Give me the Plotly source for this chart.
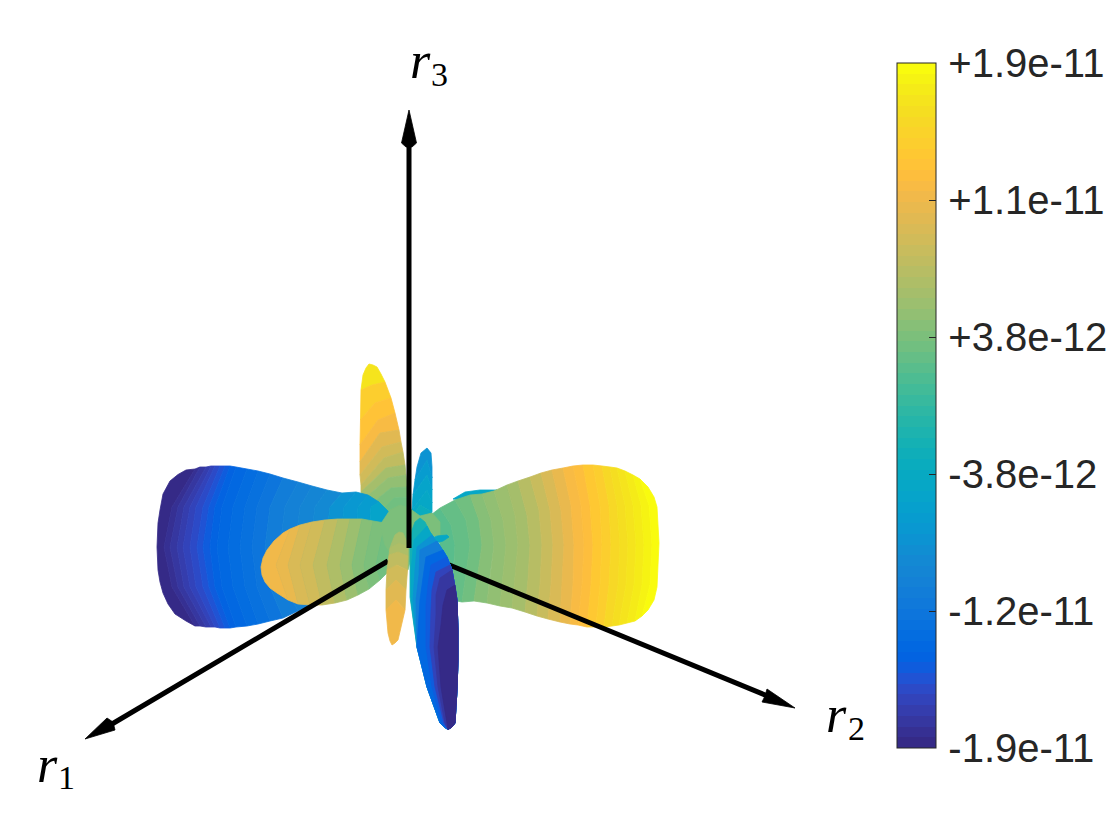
import plotly.graph_objects as go

# Colour scale levels (64 steps, bottom to top of the colour bar)
PARULA = [
 (0.2081,0.1663,0.5292),(0.2116,0.1898,0.5777),(0.2123,0.2138,0.6270),(0.2081,0.2386,0.6771),
 (0.1959,0.2645,0.7279),(0.1707,0.2919,0.7792),(0.1253,0.3242,0.8303),(0.0591,0.3598,0.8683),
 (0.0117,0.3875,0.8820),(0.0060,0.4086,0.8828),(0.0165,0.4266,0.8786),(0.0329,0.4430,0.8720),
 (0.0498,0.4586,0.8641),(0.0629,0.4737,0.8554),(0.0723,0.4887,0.8467),(0.0779,0.5040,0.8384),
 (0.0793,0.5200,0.8312),(0.0749,0.5375,0.8263),(0.0641,0.5570,0.8240),(0.0488,0.5772,0.8228),
 (0.0343,0.5966,0.8199),(0.0265,0.6137,0.8135),(0.0239,0.6287,0.8038),(0.0231,0.6418,0.7913),
 (0.0228,0.6535,0.7768),(0.0267,0.6642,0.7607),(0.0384,0.6743,0.7436),(0.0590,0.6838,0.7254),
 (0.0843,0.6928,0.7062),(0.1133,0.7015,0.6859),(0.1453,0.7098,0.6646),(0.1801,0.7177,0.6424),
 (0.2178,0.7250,0.6193),(0.2586,0.7317,0.5954),(0.3022,0.7376,0.5712),(0.3482,0.7424,0.5473),
 (0.3953,0.7459,0.5244),(0.4420,0.7481,0.5033),(0.4871,0.7491,0.4840),(0.5300,0.7491,0.4661),
 (0.5709,0.7485,0.4494),(0.6099,0.7473,0.4337),(0.6473,0.7456,0.4188),(0.6834,0.7435,0.4044),
 (0.7184,0.7411,0.3905),(0.7525,0.7384,0.3768),(0.7858,0.7356,0.3633),(0.8185,0.7327,0.3498),
 (0.8507,0.7299,0.3360),(0.8824,0.7274,0.3217),(0.9139,0.7258,0.3063),(0.9450,0.7261,0.2886),
 (0.9739,0.7314,0.2666),(0.9938,0.7455,0.2403),(0.9990,0.7653,0.2164),(0.9955,0.7861,0.1967),
 (0.9880,0.8066,0.1794),(0.9789,0.8271,0.1633),(0.9697,0.8481,0.1475),(0.9626,0.8705,0.1309),
 (0.9589,0.8949,0.1132),(0.9598,0.9218,0.0948),(0.9661,0.9514,0.0755),(0.9763,0.9831,0.0538)]

V_MIN, V_MAX = -1.9, 1.9   # in units of 1e-11
TICK_VALUES = [-1.9, -1.14, -0.38, 0.38, 1.14, 1.9]
TICK_LABELS = ["\u200a-1.9e-11", "\u200a-1.2e-11", "\u200a-3.8e-12", "\u200a+3.8e-12", "\u200a+1.1e-11", "\u200a+1.9e-11"]

# ---- surface: iso-value contours of each lobe, and the value between them ----
# big lobe on the left
left_x = [
 [186,178,170,163,160,158,157,158,160,163,168,175,186],
 [195,172,164,172,195],[200,178,170,178,200],[206,184,177,184,206],[211,190,183,190,211],
 [215,196,190,196,215],[220,203,197,203,220],[225,209,203,209,225],[230,215,210,215,230],
 [236,222,217,222,236],[247,233,228,233,247],[258,245,240,245,258],[270,257,252,257,270],
 [283,270,265,270,283],[298,285,280,285,298],[312,300,295,300,312],[327,315,310,315,322],
 [342,330,325,330,335],[356,344,340,344,347],[368,358,355,358,358],[379,371,368,371,369],
 [390,387,385,385,385]]
left_y = [
 [470,474.5,481,494,510,523,547,570,582,593,604,614,621],
 [469,507,547,587,626],[467,507,547,587,626],[467,507,547,587,627],[466,507,547,587,627],
 [466,507,547,587,627],[466,507,547,587,628],[466,507,547,587,628],[466,507,547,587,628],
 [467,507,547,587,627],[469,507,547,587,626],[471,507,547,587,624],[474,507,547,587,621],
 [478,507,547,587,618],[482,507,547,587,611],[486,507,547,587,605],[490,507,547,587,600],
 [493,507,547,587,598],[492,507,547,587,595],[495,507,547,585,590],[502,507,547,575,580],
 [513,525,547,560,570]]
left_v = [-1.87,-1.81,-1.75,-1.69,-1.63,-1.57,-1.51,-1.46,-1.39,-1.34,-1.29,-1.22,-1.14,-1.06,
          -0.99,-0.91,-0.84,-0.76,-0.68,-0.61,-0.49]

# inner lobe in front of it
inner_x = [[283,274,267,263,261,262,265,270,277],[290,276,288],[300,288,298],[312,300,310],[325,313,322],[338,327,335],
           [350,340,347],[362,352,358],[373,364,369],[385,376,380],[390,388,387],[402,402,402]]
inner_y = [[533,541,550,558,567,575,582,588,593],[529,565,600],[525,565,604],[522,565,605],[520,565,605],[519,565,603],
           [519,565,600],[519,565,595],[521,565,589],[523,565,580],[524,565,573],[505,530,560]]
inner_v = [1.14,1.10,0.99,0.91,0.80,0.68,0.57,0.46,0.38,0.34,0.30]

# tall lobe at the top
tall_x = [[361,362,363,366,369,373,377,381,385],[361,372,385],[360.5,375,391],[360,378,395],[360,380,399],[360,382,401],
          [361,384,403],[361,386,405],[363,388,406],[370,391,407],[380,394,408],[385,397,408],[390,400,408]]
tall_y = [[390,381,375,368,364,365,367,374,382],[390,385,382],[420,403,398],[445,420,413],[462,433,430],[475,447,442],
          [485,458,452],[492,468,465],[500,478,475],[505,488,487],[512,498,497],[525,510,515],[540,535,530]]
tall_v = [1.72,1.44,1.33,1.22,1.06,0.91,0.80,0.65,0.50,0.38,0.34,0.30]

# big lobe on the right
right_x = [
 [427,437,440,443,445],[440,451,455,453,452],[455,466,470,466,462],[470,479,482,478,474],
 [482,491,494,490,487],[494,503,506,503,500],[507,515,518,515,512],[518,527,530,528,525],
 [530,539,542,540,537],[541,550,553,551,548],[552,561,564,562,560],[563,571,574,573,570],
 [573,581,584,582,578],[583,590,593,591,587],[593,600,602,600,596],[602,609,611,609,604],
 [610,617,620,618,612],[617,625,628,626,619],[625,633,636,634,627],[633,641,644,642,635],
 [640,649,652,650,642],[640,648,654,657,659,657,654,648,642]]
right_y = [
 [518,530,545,570,595],[508,525,545,575,600],[500,520,545,575,602],[495,520,545,575,601],
 [494,520,545,575,603],[491,520,545,575,606],[485,515,545,580,608],[481,515,545,580,612],
 [477,510,545,585,616],[473,510,545,585,619],[470,510,545,585,622],[468,505,545,585,624],
 [466,505,545,585,625],[465,505,545,585,627],[465,505,545,585,627],[466,505,545,585,627],
 [467,505,545,585,626],[468,505,545,585,625],[471,505,545,585,623],[475,505,545,585,621],
 [479,505,545,585,616],[479,487,497,507,543,587,600,610,616]]
right_v = [0.23,0.27,0.34,0.42,0.49,0.57,0.65,0.76,0.87,0.99,1.10,1.22,1.29,1.41,1.48,1.56,1.63,1.71,1.75,1.82,1.88]

# slim lobe rising behind the axis
slim_x = [[417,421,427,431,432],[415,427,432],[413,427,432],[412,427,432],[412,420,432],[412,420,428]]
slim_y = [[467,453,448,453,467],[480,460,478],[495,475,490],[510,490,503],[517,505,512],[530,520,525]]
slim_v = [-0.76,-0.65,-0.53,-0.42,-0.34]

# short lobe below the centre
short_x = [[391,395,399,403,407],[390,399,408],[389,398,408],[387,397,407.5],[386,396,406],[386,396,405],[388,390,392,395,398]]
short_y = [[545,535,532,533,542],[548,543,547],[555,552,556],[570,565,570],[590,580,590],[610,600,610],[633,641,645,643,640]]
short_v = [0.60,0.68,0.80,0.91,1.02,1.14]

# long dark lobe: nested contours, outermost first
dark_edge_x = [448,452,455,457,458,458,457,455,452,447,438,430,425]
dark_edge_y = [729.5,727,723,690,660,630,600,587,570,557,543,532,522]
dark_x = [
 [420,415,412,410,410,417,427,440,444],[427,414,411,411,417,427,440,444],[432,417,415,413,417,427,440,444],
 [437,420,419,416,417,427,440,444],[443,426,423,420,417,427,440,444],[447,431,428,426,426,432,442,446],
 [450,436,432,431,430,435,444,447],[452,440,436,436,434,438,445,447],[455,447,443,441,438,441,447,448]]
dark_y = [
 [518,522,530,547,597,647,687,723,727],[526,540,570,600,647,687,723,727],[535,547,570,600,647,687,723,727],
 [541,550,575,600,647,687,723,727],[550,557,578,600,647,687,723,727],[557,565,585,605,647,687,723,727],
 [565,572,590,610,647,687,723,727],[570,578,595,615,647,687,723,727],[585,590,605,625,647,687,723,727]]
dark_trim = [13,12,11,11,10,9,9,8,7]   # how many points of the outer edge each contour closes along
dark_v = [-0.23,-0.46,-0.76,-1.06,-1.33,-1.48,-1.63,-1.77,-1.86]

# centre and small pieces
hub_x = [390,400,409,420,432,440,440,424,414,408,395,385,380]
hub_y = [510,505,508,516,513,522,535,540,545,570,560,545,525]
hub_v = 0.38
sliver_x = [453,465,480,497,480,462]
sliver_y = [499,492,490,490,496,500]
sliver_v = -0.42
leaf_x = [428,437,447,449,443,432]
leaf_y = [540,536,535,537,541,544]
leaf_v = -0.42

# axes as drawn in the picture
axis_r1_x, axis_r1_y = [388,112], [561,724]
axis_r2_x, axis_r2_y = [430,770], [557,697]
axis_r3_x, axis_r3_y = [409,409], [548,146]
head_r1_x, head_r1_y = [85,107,113,115], [739,718,722,730]
head_r2_x, head_r2_y = [795,767,765,762], [708,689,696,702]
head_r3_x, head_r3_y = [409,416.5,412,406,401.5], [110,143,147,147,143]
label_r = [("<i>r</i>", 47, 764), ("<i>r</i>", 836, 714), ("<i>r</i>", 420, 60)]
label_sub = [("1", 66, 777), ("2", 856, 728), ("3", 439.5, 74)]


def colour(v):
    i = min(63, max(0, int((v - V_MIN) / (V_MAX - V_MIN) * 64)))
    r, g, b = PARULA[i]
    return f"rgb({round(r*255)},{round(g*255)},{round(b*255)})"


fig = go.Figure()


def poly(xs, ys, col):
    fig.add_trace(go.Scatter(x=list(xs) + [xs[0]], y=list(ys) + [ys[0]], mode="lines", fill="toself",
                             fillcolor=col, line=dict(color=col, width=0.8),
                             hoverinfo="skip", showlegend=False))


def bands(xs, ys, vs):
    for i, v in enumerate(vs):
        poly(xs[i] + xs[i + 1][::-1], ys[i] + ys[i + 1][::-1], colour(v))


def axis(xs, ys, hx, hy):
    fig.add_trace(go.Scatter(x=xs, y=ys, mode="lines", line=dict(color="black", width=5),
                             hoverinfo="skip", showlegend=False))
    poly(hx, hy, "black")


bands(tall_x, tall_y, tall_v)
poly(sliver_x, sliver_y, colour(sliver_v))
bands(slim_x, slim_y, slim_v)
bands(right_x, right_y, right_v)
bands(left_x, left_y, left_v)
bands(inner_x, inner_y, inner_v)
poly(hub_x, hub_y, colour(hub_v))
axis(axis_r1_x, axis_r1_y, head_r1_x, head_r1_y)
axis(axis_r2_x, axis_r2_y, head_r2_x, head_r2_y)
bands(short_x, short_y, short_v)
poly(leaf_x, leaf_y, colour(leaf_v))
for cx, cy, n, v in zip(dark_x, dark_y, dark_trim, dark_v):
    poly(cx + dark_edge_x[:n], cy + dark_edge_y[:n], colour(v))
axis(axis_r3_x, axis_r3_y, head_r3_x, head_r3_y)

scale = []
for i, (r, g, b) in enumerate(PARULA):
    c = f"rgb({round(r*255)},{round(g*255)},{round(b*255)})"
    scale += [[i / 64, c], [(i + 1) / 64, c]]

fig.add_trace(go.Scatter(
    x=[-50, -50], y=[-50, -50], mode="markers", hoverinfo="skip", showlegend=False,
    marker=dict(color=[V_MIN, V_MAX], cmin=V_MIN, cmax=V_MAX, colorscale=scale, showscale=True,
                colorbar=dict(x=897 / 1120, xanchor="left", xpad=0, ypad=0, y=1 - 405.5 / 840, yanchor="middle",
                              thickness=39, thicknessmode="pixels", len=685, lenmode="pixels",
                              outlinecolor="#262626", outlinewidth=1, bordercolor="rgba(0,0,0,0)", borderwidth=0,
                              tickmode="array", tickvals=TICK_VALUES, ticktext=TICK_LABELS,
                              ticks="inside", ticklen=7, tickwidth=1, tickcolor="#262626",
                              tickfont=dict(family="Liberation Sans", size=40, color="#262626")))))

for text, x, y in label_r:
    fig.add_annotation(x=x, y=y, text=text, showarrow=False, xanchor="center", yanchor="middle",
                       font=dict(family="Liberation Serif", size=52, color="black"))
for text, x, y in label_sub:
    fig.add_annotation(x=x, y=y, text=text, showarrow=False, xanchor="center", yanchor="middle",
                       font=dict(family="Liberation Serif", size=34, color="black"))

fig.update_layout(width=1120, height=840, margin=dict(l=0, r=0, t=0, b=0),
                  paper_bgcolor="white", plot_bgcolor="white",
                  xaxis=dict(range=[0, 1120], visible=False, fixedrange=True),
                  yaxis=dict(range=[840, 0], visible=False, fixedrange=True))

fig.write_html("out.html", config={"displayModeBar": False},
               post_script="document.body.style.margin='0';")
